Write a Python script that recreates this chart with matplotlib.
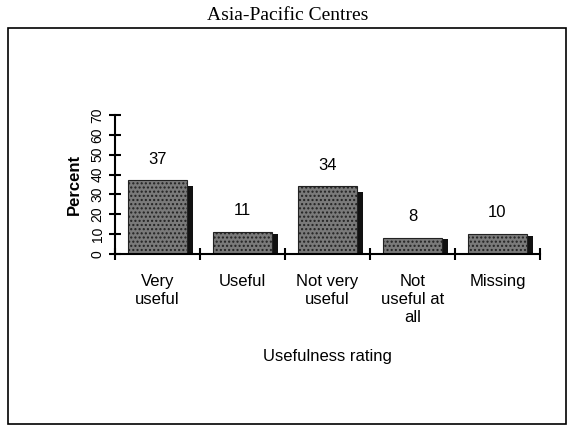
import numpy as np
import matplotlib.pyplot as plt
from matplotlib.patches import Rectangle

categories = ["Very\nuseful", "Useful", "Not very\nuseful", "Not\nuseful at\nall", "Missing"]
percent = [37, 11, 34, 8, 10]
yticks = [0, 10, 20, 30, 40, 50, 60, 70]

plt.rcParams["font.family"] = ["Liberation Sans", "DejaVu Sans"]

fig = plt.figure(figsize=(5.75, 4.29), dpi=100)
fig.patches.append(Rectangle((8/575, 5/429), 558/575, 396/429, transform=fig.transFigure,
                             fill=False, edgecolor="black", linewidth=1.2))
fig.text(0.5, 0.965, "Asia-Pacific Centres", ha="center", va="center",
         family="Liberation Serif", fontsize=14)

ax = fig.add_axes([0.2, 0.408, 0.739, 0.324])
x = np.arange(len(categories))
# shadow bars
ax.bar(x + 0.07, [p * 0.92 for p in percent], width=0.7, color="#111111", zorder=1)
ax.bar(x, percent, width=0.7, color="#7a7a7a", edgecolor="#222222",
       hatch="....", linewidth=0.8, zorder=2)
for xi, p in zip(x, percent):
    ax.text(xi, p + 7, str(p), ha="center", va="bottom", fontsize=12)

ax.set_xlim(-0.5, len(categories) - 0.5)
ax.set_ylim(0, 70)
ax.set_yticks(yticks)
ax.set_yticklabels([str(t) for t in yticks], rotation=90, va="center", fontsize=10)
ax.set_xticks(np.arange(len(categories) + 1) - 0.5)
ax.set_xticklabels([])
ax.tick_params(axis="both", direction="inout", length=8, width=1.5)
for xi, c in zip(x, categories):
    ax.text(xi, -10, c, ha="center", va="top", fontsize=12,
            transform=ax.transData, linespacing=1.25)
ax.text(2, -48, "Usefulness rating", ha="center", va="top", fontsize=12)
ax.set_ylabel("Percent", fontsize=12, fontweight="bold", labelpad=6)
for s in ["top", "right"]:
    ax.spines[s].set_visible(False)
ax.spines["left"].set_linewidth(1.5)
ax.spines["bottom"].set_linewidth(1.5)

fig.savefig("out.png", dpi=100)
